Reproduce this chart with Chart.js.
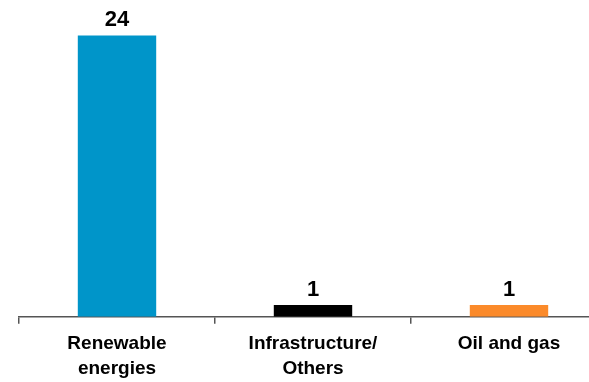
<!DOCTYPE html>
<html>
<head>
<meta charset="utf-8">
<script src="https://cdn.jsdelivr.net/npm/chart.js@4/dist/chart.umd.min.js"></script>
<style>
  html, body { margin: 0; padding: 0; background: #fff; overflow: hidden; }
  #wrap { width: 589px; height: 382px; overflow: hidden; }
</style>
</head>
<body>
<div id="wrap"><canvas id="sectorChart" width="607" height="388"></canvas></div>
<script>
// Données du graphique
const categories = [['Renewable', 'energies'], ['Infrastructure/', 'Others'], ['Oil and gas']];
const values = [24, 1, 1];
const barColors = ['#0095c9', '#000000', '#fb8a2a'];

// Étiquettes de valeur au-dessus des barres
const valueLabels = {
    id: 'valueLabels',
    afterDatasetsDraw(chart) {
        const ctx = chart.ctx;
        const meta = chart.getDatasetMeta(0);
        ctx.save();
        ctx.font = 'bold 22px "Liberation Sans", Arial, sans-serif';
        ctx.fillStyle = '#000';
        ctx.textAlign = 'center';
        ctx.textBaseline = 'alphabetic';
        meta.data.forEach(function (bar, i) {
            ctx.fillText(String(values[i]), bar.x, bar.y - 9);
        });
        ctx.restore();
    }
};

document.addEventListener('DOMContentLoaded', function () {
    const ctx = document.getElementById('sectorChart').getContext('2d');
    new Chart(ctx, {
        type: 'bar',
        data: {
            labels: categories,
            datasets: [{
                data: values,
                backgroundColor: barColors,
                categoryPercentage: 1,
                barPercentage: 0.4
            }]
        },
        options: {
            responsive: false,
            animation: false,
            layout: { padding: { left: 19, right: 0, top: 12, bottom: 0 } },
            plugins: {
                legend: { display: false },
                tooltip: { enabled: false }
            },
            scales: {
                x: {
                    offset: true,
                    border: { color: '#555', width: 1.5 },
                    grid: { offset: true, drawOnChartArea: false, tickLength: 7, color: '#555', lineWidth: 1.5 },
                    ticks: {
                        color: '#000',
                        padding: 7,
                        font: { family: '"Liberation Sans", Arial, sans-serif', size: 19, weight: 'bold', lineHeight: 1.32 }
                    }
                },
                y: {
                    display: false,
                    min: 0,
                    max: 26
                }
            }
        },
        plugins: [valueLabels]
    });
});
</script>
</body>
</html>
